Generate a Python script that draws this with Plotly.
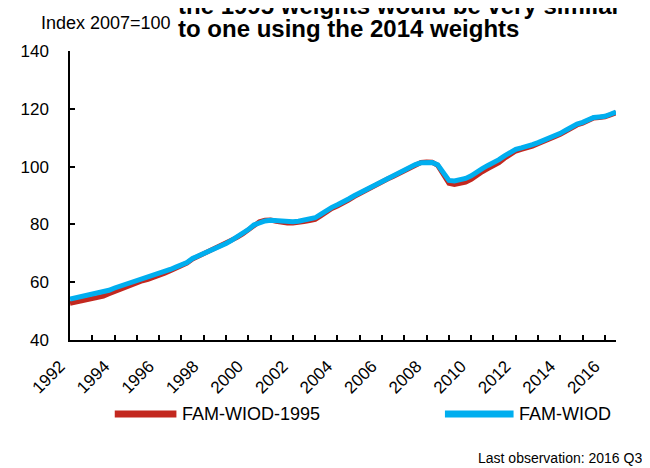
import plotly.graph_objects as go
import pandas as pd

quarters = pd.period_range("1992Q1", "2016Q3", freq="Q").to_timestamp()

fam_wiod = [
    54.2, 54.6, 55.0, 55.6,
    55.9, 56.1, 56.5, 57.2,
    58.0, 58.6, 59.3, 60.0,
    60.8, 61.3, 61.7, 62.2,
    62.8, 63.6, 64.4, 65.2,
    66.0, 66.8, 68.2, 69.0,
    69.8, 70.7, 71.6, 72.5,
    73.4, 74.5, 75.6, 76.8,
    78.2, 79.8, 80.7, 81.2,
    81.4, 81.2, 80.9, 80.8,
    80.9, 81.1, 81.5, 81.9,
    82.3, 83.5, 84.8, 85.9,
    86.8, 87.6, 88.8, 89.9,
    90.9, 91.9, 93.0, 93.9,
    95.2, 95.9, 96.8, 97.7,
    98.7, 99.7, 100.7, 101.3,
    101.5, 101.4, 100.6, 98.0,
    95.2, 95.0, 95.4, 95.9,
    96.8, 98.2, 99.3, 100.4,
    101.2, 102.4, 103.7, 104.9,
    106.0, 106.5, 106.9, 107.6,
    108.3, 109.0, 109.7, 110.6,
    111.5, 112.6, 113.8, 114.7,
    115.3, 116.2, 117.0, 117.2,
    117.4, 118.1, 118.9,
]

fam_wiod_1995 = [
    52.7, 53.1, 53.6, 54.2,
    54.5, 54.8, 55.2, 56.0,
    56.8, 57.5, 58.2, 59.0,
    59.9, 60.5, 61.0, 61.6,
    62.3, 63.1, 64.0, 64.9,
    65.8, 66.6, 68.0, 68.9,
    69.7, 70.6, 71.5, 72.4,
    73.3, 74.4, 75.5, 76.7,
    78.2, 79.9, 80.9, 81.4,
    81.5, 81.1, 80.7, 80.5,
    80.5, 80.6, 81.0, 81.3,
    81.7, 82.9, 84.3, 85.5,
    86.4, 87.2, 88.4, 89.6,
    90.7, 91.7, 92.8, 93.7,
    95.0, 95.7, 96.6, 97.6,
    98.6, 99.7, 100.7, 101.4,
    101.6, 101.5, 100.4, 97.3,
    94.2, 93.8, 94.1, 94.6,
    95.6, 97.0, 98.2, 99.3,
    100.2, 101.4, 102.9, 104.2,
    105.4, 106.0, 106.4, 107.1,
    107.9, 108.6, 109.4, 110.3,
    111.2, 112.3, 113.5, 114.4,
    115.0, 115.9, 116.8, 117.0,
    117.2, 117.9, 118.6,
]

tick_years = list(range(1992, 2017))
tick_labels = [str(y) if y % 2 == 0 else "" for y in tick_years]
y_ticks = [40, 60, 80, 100, 120, 140]

title_lines = ["the 1995 weights would be very similar", "to one using the 2014 weights"]
legend_names = ["FAM-WIOD-1995", "FAM-WIOD"]

RED = "#C3281F"
BLUE = "#00AEEF"
FONT = "Liberation Sans, Arial, sans-serif"

W, H = 650, 468
L, R, T, B = 59, 608, 43, 332  # plot area in pixels
pw, ph = R - L, B - T


def px(x):
    return (x - L) / pw


def py(y):
    return (B - y) / ph


fig = go.Figure()
fig.add_trace(go.Scatter(x=quarters, y=fam_wiod_1995, mode="lines", name=legend_names[0],
                         line=dict(color=RED, width=5), showlegend=False))
fig.add_trace(go.Scatter(x=quarters, y=fam_wiod, mode="lines", name=legend_names[1],
                         line=dict(color=BLUE, width=5), showlegend=False))

fig.update_layout(
    width=W, height=H,
    margin=dict(l=L, r=W - R, t=T, b=H - B, pad=0),
    plot_bgcolor="white", paper_bgcolor="white",
    font=dict(family=FONT, size=17, color="black"),
    showlegend=False,
)

fig.update_xaxes(
    type="date",
    range=[quarters[0], quarters[-1]],
    tickmode="array",
    tickvals=[pd.Timestamp(f"{y}-01-01") for y in tick_years],
    ticktext=tick_labels,
    tickangle=-45,
    ticks="inside", ticklen=5, tickwidth=1.5, tickcolor="black",
    showline=True, linecolor="black", linewidth=1.5,
    showgrid=False, zeroline=False,
    ticklabelstandoff=8,
    ticklabelshift=-10,
    tickfont=dict(size=17),
)
fig.update_yaxes(
    range=[40, 140],
    tickmode="array", tickvals=y_ticks,
    ticks="inside", ticklen=5, tickwidth=1.5, tickcolor="black",
    showline=True, linecolor="black", linewidth=1.5,
    showgrid=False, zeroline=False,
    ticklabelstandoff=16,
    tickfont=dict(size=17),
)


def note(text, x, y, xanchor="left", size=18, bold=False):
    return dict(text=f"<b>{text}</b>" if bold else text, x=px(x), y=py(y),
                xref="paper", yref="paper", xanchor=xanchor, yanchor="middle",
                showarrow=False, font=dict(size=size, family=FONT))


annotations = [
    note("Index 2007=100", 28, 14.8, size=18),
    note(title_lines[0], 166, -3, size=24, bold=True),
    note(title_lines[1], 166, 20.5, size=24, bold=True),
    note("Last observation: 2016 Q3", 636, 450, xanchor="right", size=14),
    note(legend_names[0], 170, 406, size=18),
    note(legend_names[1], 508, 406, size=18),
]
shapes = [
    dict(type="line", xref="paper", yref="paper", x0=px(104), x1=px(166), y0=py(406), y1=py(406),
         line=dict(color=RED, width=7)),
    dict(type="line", xref="paper", yref="paper", x0=px(436), x1=px(505), y0=py(406), y1=py(406),
         line=dict(color=BLUE, width=7)),
]
fig.update_layout(annotations=annotations, shapes=shapes)

fig.write_html("out.html")
